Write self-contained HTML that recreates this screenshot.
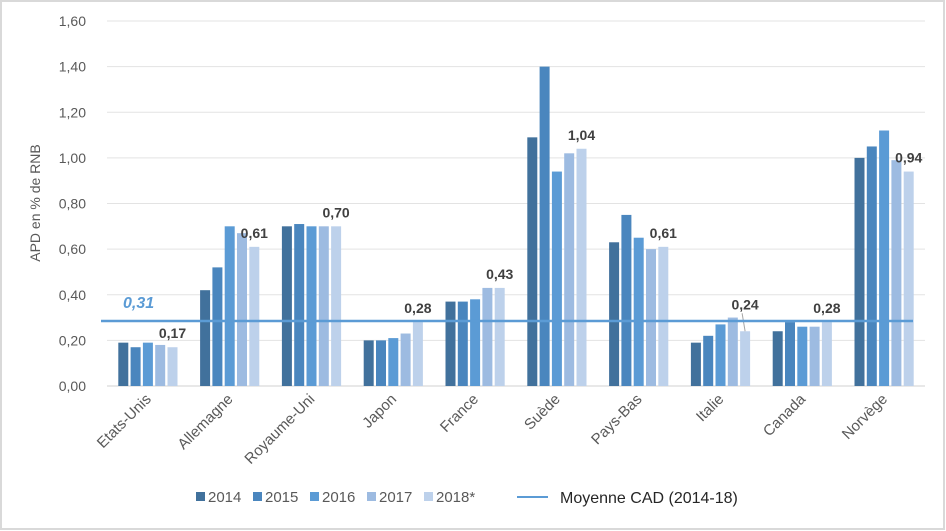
<!DOCTYPE html>
<html><head><meta charset="utf-8"><style>
body{margin:0;background:#fff;}
svg{display:block;font-family:"Liberation Sans",sans-serif;}
</style></head><body>
<svg id="c" width="946" height="531" xmlns="http://www.w3.org/2000/svg">
<rect x="1" y="1" width="943" height="528" fill="#fff" stroke="#d9d9d9" stroke-width="2"/>
<g id="grid"></g><g id="bars"></g><g id="labels"></g>
<text transform="translate(40,203) rotate(-90)" text-anchor="middle" font-size="14" fill="#595959">APD en % de RNB</text>
</svg>
<script>
const categories=["Etats-Unis","Allemagne","Royaume-Uni","Japon","France","Suède","Pays-Bas","Italie","Canada","Norvège"];
const years=["2014","2015","2016","2017","2018*"];
const v2014=[0.19,0.42,0.70,0.20,0.37,1.09,0.63,0.19,0.24,1.00];
const v2015=[0.17,0.52,0.71,0.20,0.37,1.40,0.75,0.22,0.28,1.05];
const v2016=[0.19,0.70,0.70,0.21,0.38,0.94,0.65,0.27,0.26,1.12];
const v2017=[0.18,0.67,0.70,0.23,0.43,1.02,0.60,0.30,0.26,0.99];
const v2018=[0.17,0.61,0.70,0.28,0.43,1.04,0.61,0.24,0.28,0.94];
const dataLabels=["0,17","0,61","0,70","0,28","0,43","1,04","0,61","0,24","0,28","0,94"];
const yTicks=[0,0.2,0.4,0.6,0.8,1.0,1.2,1.4,1.6];
const yTickLabels=["0,00","0,20","0,40","0,60","0,80","1,00","1,20","1,40","1,60"];
const meanValue=0.285;
const meanLabel="0,31";
const series=[v2014,v2015,v2016,v2017,v2018];
const colors=["#41719c","#4a86be","#5b9bd5","#9dbbe1","#bdd1eb"];
const NS="http://www.w3.org/2000/svg";
const X0=107,X1=925,Y0=386,Y1=21;
const y=v=>Y0-(v/1.6)*(Y0-Y1);
const bw=(X1-X0)/categories.length;
const xc=i=>X0+bw*(i+0.5);
function mk(t,a,p){const e=document.createElementNS(NS,t);for(const k in a)e.setAttribute(k,a[k]);p.appendChild(e);return e;}
const grid=document.getElementById('grid'),bars=document.getElementById('bars'),lab=document.getElementById('labels');
yTicks.forEach((t,i)=>{
 const l=mk('line',{x1:X0,x2:X1,y1:y(t),y2:y(t),stroke:i==0?'#d0d0d0':'#e3e3e3','stroke-width':1},grid);
 
 
 const tx=mk('text',{x:86,y:y(t)+5,'text-anchor':'end','font-size':14,fill:'#595959'},grid);
 tx.textContent=yTickLabels[i];
 
 
});
const barW=10,step=12.3;
categories.forEach((c,i)=>{
 series.forEach((s,j)=>{
  const bx=xc(i)+(j-2)*step-barW/2;
  const r=mk('rect',{x:bx,y:y(s[i]),width:barW,height:Y0-y(s[i]),fill:colors[j]},bars);
  
  
 });
 const off=(i==7)?22:9;
 const t=mk('text',{x:xc(i)+2*step,y:y(v2018[i])-off,'text-anchor':'middle','font-size':14,'font-weight':'bold',fill:'#404040'},lab);
 t.textContent=dataLabels[i];
 
 
 if(i==7){
  const ld=mk('line',{x1:xc(i)+2*step-3,y1:y(v2018[i])-18,x2:xc(i)+2*step,y2:y(v2018[i]),stroke:'#a6a6a6','stroke-width':1},lab);
  
  
 }
 const cx=xc(i)+4,cy=400;
 const ct=mk('text',{x:cx,y:cy,'text-anchor':'end','font-size':15,fill:'#595959',transform:`rotate(-45 ${cx} ${cy})`},lab);
 ct.textContent=c;
 
 
});
const ml=mk('line',{x1:101,x2:913,y1:y(meanValue),y2:y(meanValue),stroke:'#5b9bd5','stroke-width':2.5},lab);


const mt=mk('text',{x:123,y:308,'font-size':16,'font-weight':'bold','font-style':'italic',fill:'#5b9bd5'},lab);
mt.textContent=meanLabel;


const lx=[196,253,310,367,424];
years.forEach((yy,j)=>{
 const r=mk('rect',{x:lx[j],y:492,width:9,height:9,fill:colors[j]},lab);
 
 
 const t=mk('text',{x:lx[j]+12,y:502,'font-size':15,fill:'#595959'},lab);
 t.textContent=yy;
 
 
});
const ll=mk('line',{x1:517,x2:548,y1:497,y2:497,stroke:'#5b9bd5','stroke-width':2},lab);


const lt=mk('text',{x:560,y:503,'font-size':16,fill:'#262626'},lab);
lt.textContent="Moyenne CAD (2014-18)";


</script>
</body></html>
